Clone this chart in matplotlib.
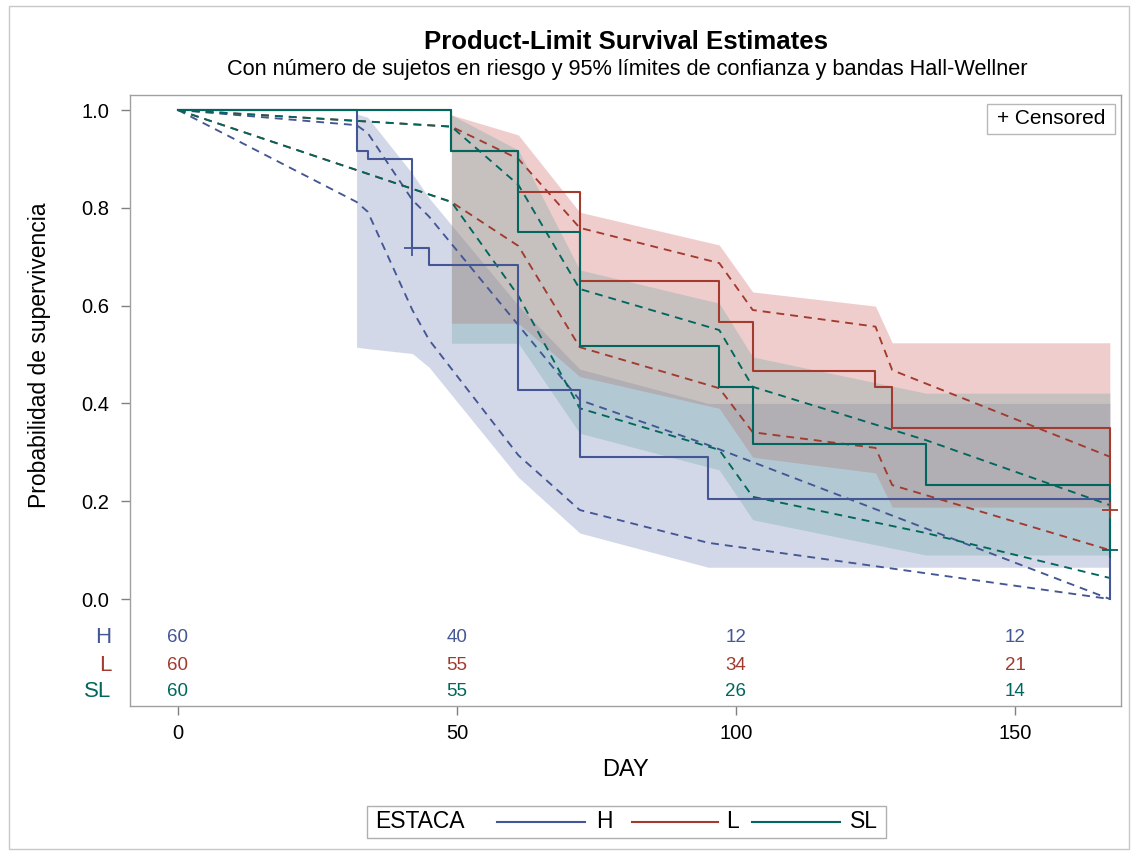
import matplotlib
matplotlib.use("Agg")
import matplotlib.pyplot as plt
from matplotlib.lines import Line2D
from matplotlib.patches import Rectangle

plt.rcParams['font.family'] = ['Liberation Sans', 'DejaVu Sans']

groups = ["H", "L", "SL"]
line_colors = {"H": "#445694", "L": "#A23A2E", "SL": "#01665E"}
fill_colors = {"H": "#6F7EB3", "L": "#D05B5B", "SL": "#66A5A0"}

# Product-limit estimates (time, survival after event)
H_time = [0, 32, 34, 42, 45, 61, 72, 95, 167]
H_surv = [1.0, 0.917, 0.900, 0.717, 0.683, 0.427, 0.290, 0.205, 0.0]
L_time = [0, 49, 61, 72, 97, 103, 125, 128, 167]
L_surv = [1.0, 0.917, 0.833, 0.650, 0.567, 0.467, 0.433, 0.350, 0.183]
SL_time = [0, 49, 61, 72, 97, 103, 134, 167]
SL_surv = [1.0, 0.917, 0.750, 0.517, 0.433, 0.317, 0.233, 0.100]

# Pointwise 95% confidence limits
H_cl_lo = [1.0, 0.812, 0.792, 0.591, 0.530, 0.294, 0.182, 0.115, 0.0]
H_cl_hi = [1.0, 0.969, 0.953, 0.816, 0.782, 0.560, 0.407, 0.315, 0.0]
L_cl_lo = [1.0, 0.812, 0.722, 0.515, 0.431, 0.341, 0.309, 0.233, 0.100]
L_cl_hi = [1.0, 0.966, 0.900, 0.759, 0.687, 0.591, 0.557, 0.468, 0.291]
SL_cl_lo = [1.0, 0.812, 0.620, 0.390, 0.305, 0.209, 0.135, 0.043]
SL_cl_hi = [1.0, 0.966, 0.847, 0.634, 0.550, 0.434, 0.325, 0.192]

# Hall-Wellner bands
H_hw_time = [32, 34, 42, 45, 61, 72, 95, 167]
H_hw_lo = [0.515, 0.512, 0.502, 0.474, 0.249, 0.135, 0.065, 0.065]
H_hw_hi = [0.992, 0.985, 0.870, 0.820, 0.600, 0.470, 0.400, 0.400]
L_hw_time = [49, 61, 72, 97, 103, 125, 128, 167]
L_hw_lo = [0.564, 0.564, 0.455, 0.390, 0.290, 0.258, 0.188, 0.188]
L_hw_hi = [0.990, 0.949, 0.791, 0.724, 0.628, 0.599, 0.524, 0.524]
SL_hw_time = [49, 61, 72, 97, 103, 134, 167]
SL_hw_lo = [0.523, 0.523, 0.339, 0.264, 0.162, 0.090, 0.090]
SL_hw_hi = [0.990, 0.918, 0.673, 0.605, 0.495, 0.421, 0.421]

# Censored observations
cens_time = {"H": [42], "L": [167], "SL": [167]}
cens_surv = {"H": [0.717], "L": [0.183], "SL": [0.100]}

# Number at risk
risk_times = [0, 50, 100, 150]
H_risk = [60, 40, 12, 12]
L_risk = [60, 55, 34, 21]
SL_risk = [60, 55, 26, 14]

data = {
    "H": (H_time, H_surv, H_cl_lo, H_cl_hi, H_hw_time, H_hw_lo, H_hw_hi, H_risk),
    "L": (L_time, L_surv, L_cl_lo, L_cl_hi, L_hw_time, L_hw_lo, L_hw_hi, L_risk),
    "SL": (SL_time, SL_surv, SL_cl_lo, SL_cl_hi, SL_hw_time, SL_hw_lo, SL_hw_hi, SL_risk),
}

W, Hh = 1138, 852
fig = plt.figure(figsize=(W / 100, Hh / 100), dpi=100)


def fx(px):
    return px / W


def fy(py):
    return 1 - py / Hh


fig.patches.append(Rectangle((fx(9), fy(849)), 1120 / W, 843 / Hh, transform=fig.transFigure,
                             fill=False, edgecolor="#c8c8c8", lw=1.0))

ax_l, ax_r, ax_t, ax_b = 130, 1121, 95, 706
ax = fig.add_axes([fx(ax_l), fy(ax_b), (ax_r - ax_l) / W, (ax_b - ax_t) / Hh])

for g in groups:
    t, s, lo, hi, ht, hlo, hhi, rk = data[g]
    ax.fill_between(ht, hlo, hhi, color=fill_colors[g], alpha=0.3, lw=0, zorder=1)
for g in groups:
    t, s, lo, hi, ht, hlo, hhi, rk = data[g]
    ax.plot(t, lo, color=line_colors[g], lw=1.35, dashes=(4.2, 3.2), zorder=2)
    ax.plot(t, hi, color=line_colors[g], lw=1.35, dashes=(4.2, 3.2), zorder=2)
for g in groups:
    t, s, lo, hi, ht, hlo, hhi, rk = data[g]
    ax.step(t, s, where="post", color=line_colors[g], lw=1.5, zorder=3)
    ax.plot(cens_time[g], cens_surv[g], ls="none", marker="+", ms=12, mew=1.3,
            color=line_colors[g], zorder=4)

ax.set_xlim(-8.6, 169.0)
ax.set_ylim(-0.2188, 1.0307)
ax.set_yticks([0.0, 0.2, 0.4, 0.6, 0.8, 1.0])
ax.set_yticklabels(["0.0", "0.2", "0.4", "0.6", "0.8", "1.0"])
ax.set_xticks([0, 50, 100, 150])
ax.tick_params(axis="both", labelsize=14.5, color="#808080", length=6.2, width=1)
ax.tick_params(axis="y", pad=9)
ax.tick_params(axis="x", pad=7)
for sp in ax.spines.values():
    sp.set_color("#a0a0a0")
    sp.set_linewidth(1.0)

fig.text(fx(626), fy(770), "DAY", fontsize=17, ha="center", va="center")
fig.text(fx(40), fy(355), "Probabilidad de supervivencia", fontsize=16.5, rotation=90,
         ha="center", va="center")

# at-risk table
row_y = [-0.0796, -0.135, -0.190]
for g, yy in zip(groups, row_y):
    rk = data[g][7]
    for xt, n in zip(risk_times, rk):
        ax.text(xt, yy, str(n), color=line_colors[g], fontsize=13.5, ha="center", va="center")
    ax.text(-0.019, yy, g, transform=ax.get_yaxis_transform(), color=line_colors[g],
            fontsize=16, ha="right", va="center")

# censored legend
fig.patches.append(Rectangle((fx(987), fy(134)), 128 / W, 30 / Hh, transform=fig.transFigure,
                             fc="white", edgecolor="#b8b8b8", lw=1, zorder=5))
fig.text(fx(1051), fy(119), "+ Censored", fontsize=15, ha="center", va="center", zorder=6)

fig.text(fx(626), fy(42), "Product-Limit Survival Estimates", fontsize=18.5,
         fontweight="bold", ha="center", va="center")
fig.text(fx(627), fy(70),
         "Con número de sujetos en riesgo y 95% límites de confianza y bandas Hall-Wellner",
         fontsize=15.7, ha="center", va="center")

# bottom legend
fig.patches.append(Rectangle((fx(367), fy(838)), (886 - 367) / W, 32 / Hh,
                             transform=fig.transFigure, fill=False, edgecolor="#b0b0b0", lw=1))
fig.text(fx(375), fy(822), "ESTACA", fontsize=16.5, ha="left", va="center")
leg_x = {"H": (497, 585, 596), "L": (632, 718, 726), "SL": (752, 840, 850)}
for g in groups:
    x0, x1, xt = leg_x[g]
    fig.add_artist(Line2D([fx(x0), fx(x1)], [fy(822), fy(822)], transform=fig.transFigure,
                          color=line_colors[g], lw=1.5))
    fig.text(fx(xt), fy(822), g, fontsize=16.5, ha="left", va="center")

fig.savefig("out.png", dpi=100)
